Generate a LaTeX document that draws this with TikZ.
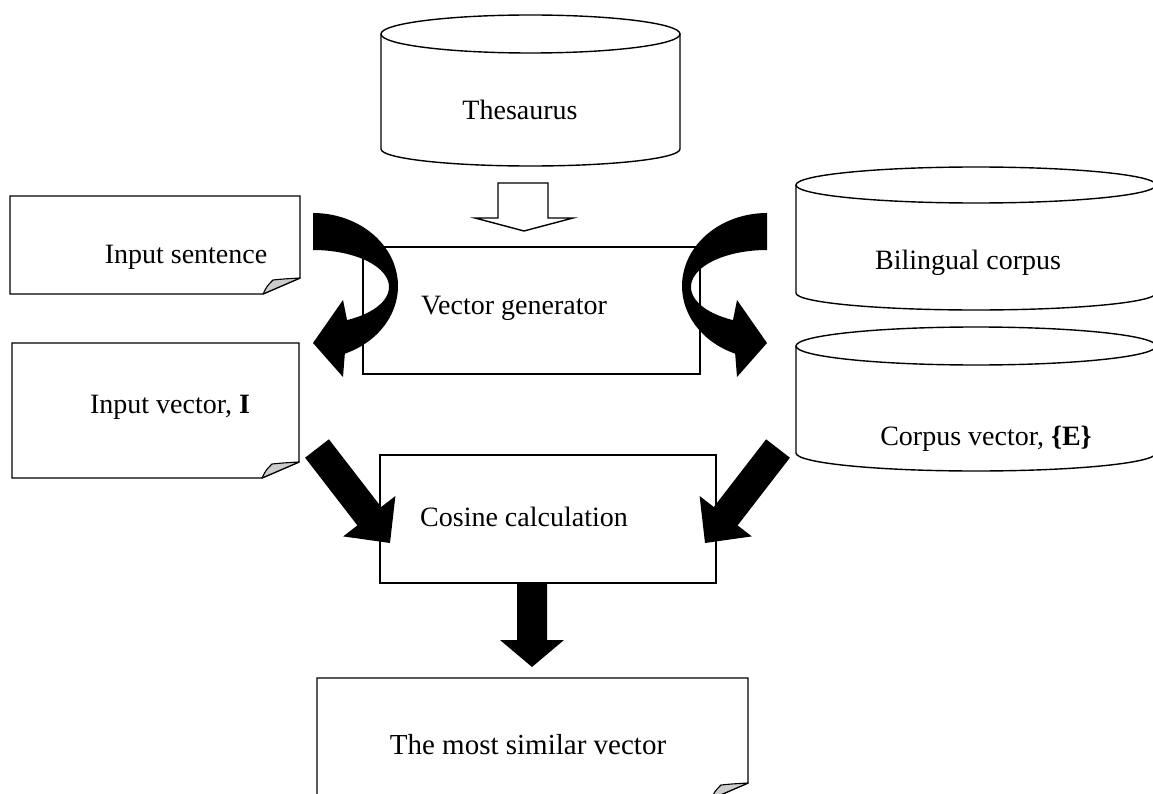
\documentclass[tikz,border=0pt]{standalone}
\usepackage{fontspec}
\setmainfont{Liberation Serif}
\newcommand{\drawcyl}[6]{%
  \pgfmathsetmacro\cylcx{(#1+#2)/2}%
  \pgfmathsetmacro\cylrx{(#2-#1)/2}%
  \fill[white] (#1,#3) -- (#1,#5) .. controls (#1,#5+0.5523*#6) and (\cylcx-0.5523*\cylrx,#5+#6) .. (\cylcx,#5+#6) .. controls (\cylcx+0.5523*\cylrx,#5+#6) and (#2,#5+0.5523*#6) .. (#2,#5) -- (#2,#3) -- cycle;
  \draw[shapeline] (#1,#3) -- (#1,#5) .. controls (#1,#5+0.5523*#6) and (\cylcx-0.5523*\cylrx,#5+#6) .. (\cylcx,#5+#6) .. controls (\cylcx+0.5523*\cylrx,#5+#6) and (#2,#5+0.5523*#6) .. (#2,#5) -- (#2,#3);
  \draw[shapeline,fill=white] (\cylcx,#3) ellipse [x radius=\cylrx, y radius=#4];
}
\newcommand{\drawdoc}[4]{%
  \draw[shapeline,fill=white] (#1,#2) -- (#3,#2) -- (#3,#4-16) -- (#3-37,#4) -- (#1,#4) -- cycle;
  \draw[flap] (#3-37,#4) .. controls (#3-33,#4-8) .. (#3-27,#4-14) .. controls (#3-17,#4-15) .. (#3,#4-16) -- cycle;
}
\begin{document}
\begin{tikzpicture}[x=1pt,y=-1pt,line join=miter]
\tikzset{
  shapeline/.style={draw=black, line width=1.4pt},
  lbl/.style={font=\fontsize{28}{32}\selectfont, inner sep=0pt, anchor=center},
  flap/.style={draw=black, line width=1.1pt, fill=black!20, line join=round},
  blockarrow/.style={fill=black, draw=none},
  hollowarrow/.style={draw=black, line width=1.4pt, fill=white},
}
\useasboundingbox (0,0) rectangle (1153,794);
\clip (0,0) rectangle (1153,794);

% cylinders
\drawcyl{381}{680}{34}{19}{149}{17}
\drawcyl{796}{1156}{185}{18}{293}{17}
\drawcyl{796}{1156}{346}{19}{453}{18}

% documents
\drawdoc{10}{196}{300}{294}
\drawdoc{12}{343}{299}{478}
\drawdoc{317}{678}{748}{799}

% process boxes
\draw[shapeline,fill=white] (363,247) rectangle (700,374);
\draw[shapeline,fill=white] (380,455) rectangle (716,583);

% labels
\node[lbl] (thes) at (520,110) {Thesaurus};
\node[lbl] (insent) at (186,257) {Input sentence};
\node[lbl] (vecgen) at (514,308) {Vector generator};
\node[lbl] (bili) at (968,263) {Bilingual corpus};
\node[lbl] (invec) at (170,407) {Input vector, \textbf{I}};
\node[lbl] (corvec) at (986,439) {Corpus vector, \textbf{\{E\}}};
\node[lbl] (cosine) at (524,517) {Cosine calculation};
\node[lbl,font=\fontsize{29}{33}\selectfont] (mostsim) at (528,745) {The most similar vector};

% hollow arrow Thesaurus -> Vector generator
\draw[hollowarrow] (498,183) -- (548,183) -- (548,218) -- (573,218) -- (524,231) -- (475,218) -- (498,218) -- cycle;

% curved arrows
\fill[blockarrow] (313,213) -- plot[domain=90:-68,samples=50,variable=\t] ({313+85*cos(\t)},{286-73*sin(\t)})
  -- (343,377) -- (313,343) -- (343,300) -- (347,320)
  -- plot[domain=-63.4:90,samples=50,variable=\t] ({313+76*cos(\t)},{287-37*sin(\t)}) -- cycle;
\fill[blockarrow] (767,213) -- plot[domain=90:-68,samples=50,variable=\t] ({767-85*cos(\t)},{286-73*sin(\t)})
  -- (737,377) -- (767,343) -- (737,300) -- (733,320)
  -- plot[domain=-63.4:90,samples=50,variable=\t] ({767-76*cos(\t)},{287-37*sin(\t)}) -- cycle;

% diagonal arrows into Cosine calculation
\fill[blockarrow] (328.9,439.3) -- (381.2,507.0) -- (395.4,496.0) -- (390,543) -- (343.2,536.4) -- (357.4,525.4) -- (305.1,457.7) -- cycle;
\fill[blockarrow] (766.1,439.3) -- (713.8,507.0) -- (699.6,496.0) -- (705,543) -- (751.8,536.4) -- (737.6,525.4) -- (789.9,457.7) -- cycle;

% down arrow
\fill[blockarrow] (517,583) -- (547,583) -- (547,640) -- (564,640) -- (532,667) -- (500,640) -- (517,640) -- cycle;
\end{tikzpicture}
\end{document}
